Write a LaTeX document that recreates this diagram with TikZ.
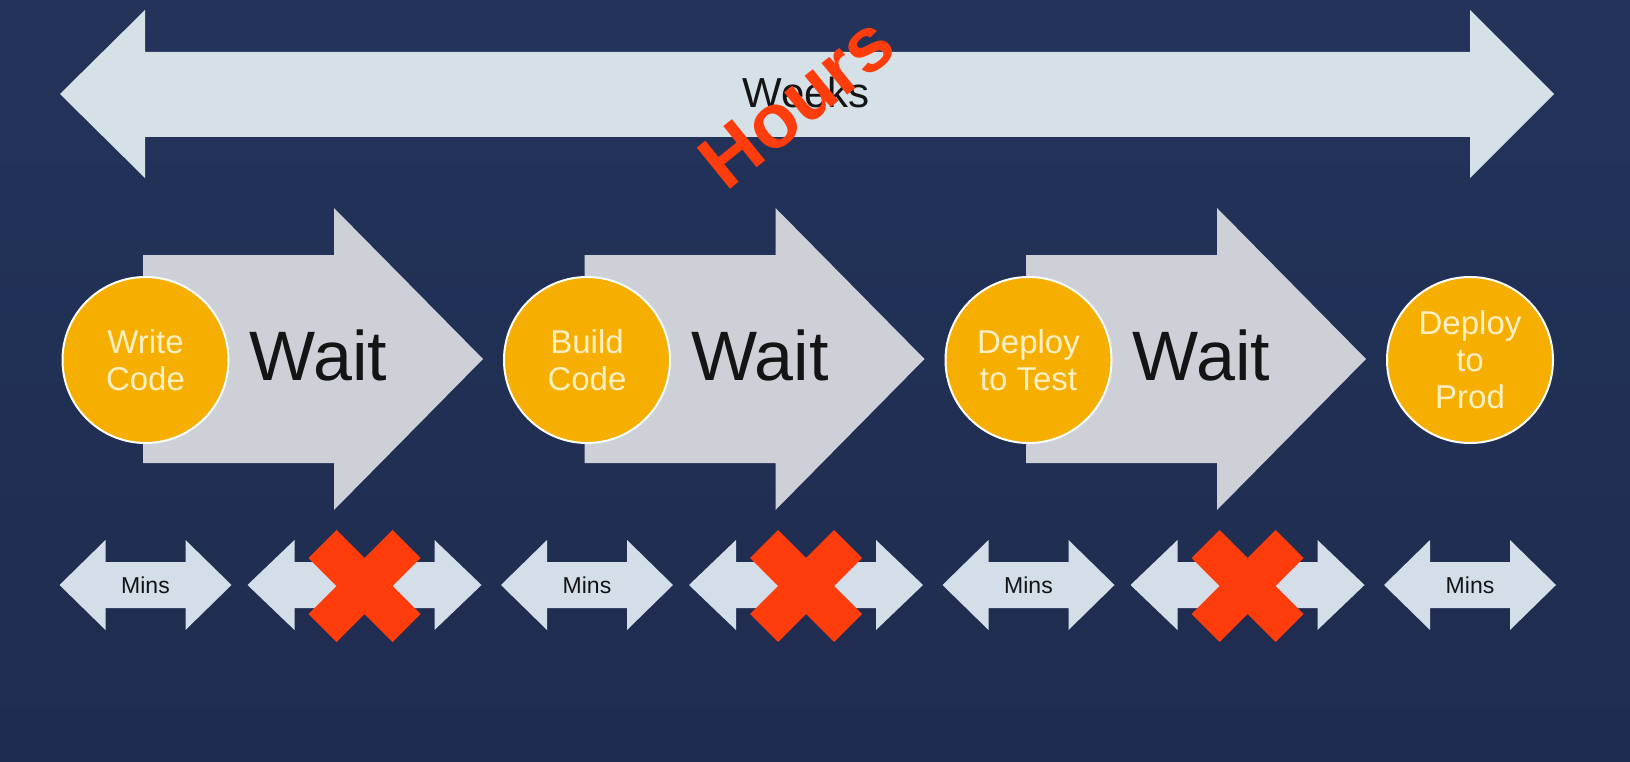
\documentclass[tikz,border=0pt]{standalone}
\usepackage{fontspec}
\setmainfont{Liberation Sans}
\definecolor{bgtop}{HTML}{23335A}
\definecolor{bgbot}{HTML}{1F2C4F}
\definecolor{toparrow}{HTML}{D6E0E7}
\definecolor{bigarrow}{HTML}{CED0D8}
\definecolor{smallarrow}{HTML}{D3DEE8}
\definecolor{stepfill}{HTML}{F6AE00}
\definecolor{steptext}{HTML}{FFF0C4}
\definecolor{xred}{HTML}{FF3D0C}
\definecolor{darktext}{HTML}{141414}
\tikzset{
  stepcircle/.style={circle, fill=stepfill, draw=white, line width=2pt, minimum size=166pt, inner sep=0pt,
    text=steptext, align=center, font=\fontsize{33}{37}\selectfont},
  waitlabel/.style={font=\fontsize{70}{84}\selectfont, anchor=base, text=darktext, inner sep=0pt},
  minslabel/.style={font=\fontsize{23}{27}\selectfont, text=darktext, inner sep=0pt},
}
\begin{document}
\begin{tikzpicture}[x=1pt,y=-1pt]
\useasboundingbox (0,0) rectangle (1630,762);
\shade[top color=bgtop,bottom color=bgbot] (0,0) rectangle (1630,762);
% top double arrow
\fill[toparrow] (60,94) -- (145,10) -- (145,52) -- (1470,52) -- (1470,10) -- (1554,94)
  -- (1470,178) -- (1470,137) -- (145,137) -- (145,178) -- cycle;
\node[font=\fontsize{42}{50}\selectfont, anchor=base, text=darktext, inner sep=0pt] (weeks) at (806,108) {Weeks};
\node[font=\bfseries\fontsize{77}{90}\selectfont, text=xred, rotate=39, inner sep=0pt] (hours) at (797,102) {Hours};
% big process arrows
\foreach \i in {0,1,2} {
  \pgfmathsetmacro\dx{\i*441.5}
  \fill[bigarrow] (143+\dx,255) -- (334+\dx,255) -- (334+\dx,208) -- (483+\dx,359)
    -- (334+\dx,510) -- (334+\dx,463) -- (143+\dx,463) -- cycle;
  \node[waitlabel] (wait\i) at (318.5+\dx,380) {Wait};
}
% circles
\node[stepcircle] (s1) at (145.5,360) {Write\\Code};
\node[stepcircle] (s2) at (587,360) {Build\\Code};
\node[stepcircle] (s3) at (1028.5,360) {Deploy\\to Test};
\node[stepcircle] (s4) at (1470,360) {Deploy\\to\\Prod};
% small double arrows: Mins
\foreach \cx [count=\k] in {145.5,587,1028.5,1470} {
  \fill[smallarrow] (\cx-86,585) -- (\cx-40,540) -- (\cx-40,562) -- (\cx+40,562) -- (\cx+40,540)
    -- (\cx+86,585) -- (\cx+40,630) -- (\cx+40,608) -- (\cx-40,608) -- (\cx-40,630) -- cycle;
  \node[minslabel] (mins\k) at (\cx,585) {Mins};
}
% small double arrows crossed out
\foreach \cx in {364.5,806,1247.5} {
  \fill[smallarrow] (\cx-117,585) -- (\cx-70,540) -- (\cx-70,562) -- (\cx+70,562) -- (\cx+70,540)
    -- (\cx+117,585) -- (\cx+70,630) -- (\cx+70,608) -- (\cx-70,608) -- (\cx-70,630) -- cycle;
  \fill[xred] (\cx,586-28) -- (\cx+28,586-56) -- (\cx+56,586-28) -- (\cx+28,586) -- (\cx+56,586+28)
    -- (\cx+28,586+56) -- (\cx,586+28) -- (\cx-28,586+56) -- (\cx-56,586+28) -- (\cx-28,586)
    -- (\cx-56,586-28) -- (\cx-28,586-56) -- cycle;
}
\end{tikzpicture}
\end{document}
